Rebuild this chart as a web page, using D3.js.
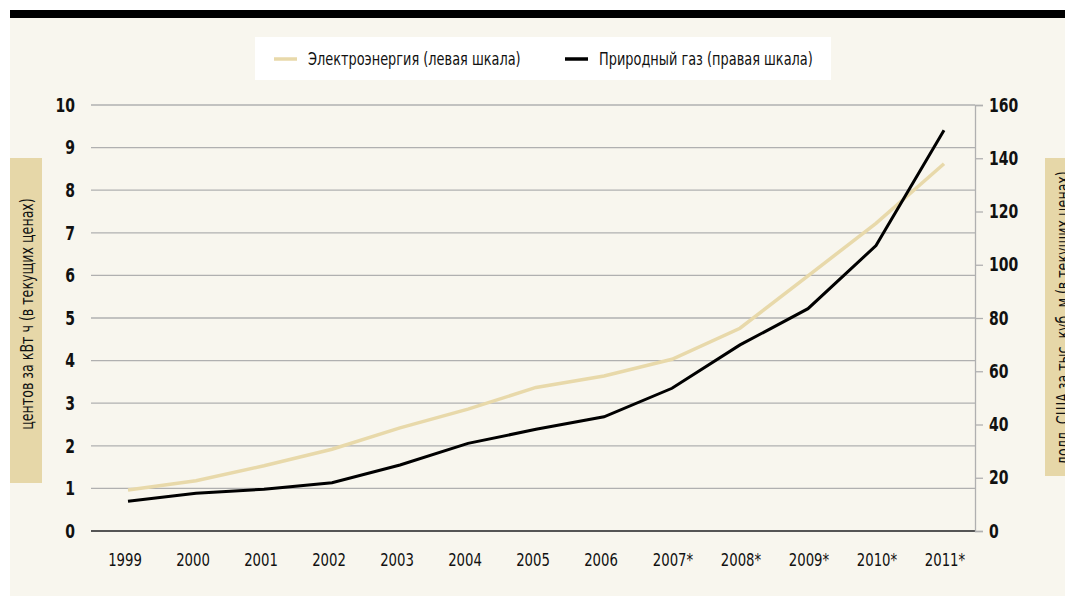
<!DOCTYPE html>
<html>
<head>
<meta charset="utf-8">
<script src="https://cdn.jsdelivr.net/npm/d3@7"></script>
<style>
  body { margin: 0; background: #fff; }
  text { font-family: "DejaVu Sans Condensed", "Liberation Sans Narrow", sans-serif; }
</style>
</head>
<body>
<div id="chart"></div>
<script>
var width = 1065, height = 596;

// data
var years = ["1999","2000","2001","2002","2003","2004","2005","2006","2007*","2008*","2009*","2010*","2011*"];
var electricity = [0.96, 1.18, 1.53, 1.92, 2.42, 2.86, 3.37, 3.64, 4.03, 4.76, 5.99, 7.22, 8.62];
var gas = [11.2, 14.2, 15.7, 18.1, 24.8, 32.9, 38.2, 42.9, 53.6, 69.9, 83.5, 107.2, 150.5];
var leftTicks = [0,1,2,3,4,5,6,7,8,9,10];
var rightTicks = [0,20,40,60,80,100,120,140,160];

var narrow = 0.82; // squeeze text to look like a condensed face

var svg = d3.select("#chart").append("svg").attr("width", width).attr("height", height);

svg.append("rect").attr("x", 10).attr("y", 10).attr("width", width - 10).attr("height", height - 10).attr("fill", "#f8f6ee");
svg.append("rect").attr("x", 10).attr("y", 10).attr("width", width - 10).attr("height", 8).attr("fill", "#000");

var x = d3.scalePoint().domain(years).range([128, 944]);
var yL = d3.scaleLinear().domain([0, 10]).range([531, 105]);
var yR = d3.scaleLinear().domain([0, 160]).range([531, 105]);

// gridlines
svg.append("g").selectAll("line").data(leftTicks).enter().append("line")
  .attr("x1", 91).attr("x2", 975)
  .attr("y1", function(d){ return yL(d); }).attr("y2", function(d){ return yL(d); })
  .attr("stroke", function(d){ return d == 0 ? "#555" : "#b0b0b0"; })
  .attr("stroke-width", function(d){ return d == 0 ? 2.2 : 1.3; });

// left labels
svg.append("g").selectAll("text").data(leftTicks).enter().append("text")
  .attr("transform", function(d){ return "translate(75," + yL(d) + ") scale(" + narrow + ",1)"; })
  .attr("dy", "0.36em").attr("text-anchor", "end")
  .attr("font-size", 19).attr("font-weight", "bold").attr("fill", "#111")
  .text(function(d){ return d; });

// right axis
var rAxis = svg.append("g").attr("transform", "translate(975,0)")
  .call(d3.axisRight(yR).tickValues(rightTicks).tickSize(8).tickPadding(6));
rAxis.select(".domain").attr("stroke", "#b0b0b0").attr("stroke-width", 1.3);
rAxis.selectAll(".tick line").attr("stroke", "#b0b0b0").attr("stroke-width", 1.3);
rAxis.selectAll(".tick text")
  .attr("x", 14 / narrow).attr("transform", "scale(" + narrow + ",1)")
  .attr("font-size", 19).attr("font-weight", "bold").attr("fill", "#111")
  .style("font-family", "'DejaVu Sans Condensed', sans-serif");

// x labels
svg.append("g").selectAll("text").data(years).enter().append("text")
  .attr("transform", function(d){
    var px = x(d) - 3 + (d.indexOf("*") > 0 ? 4 : 0);
    return "translate(" + px + ",560) scale(" + narrow + ",1)";
  })
  .attr("dy", "0.36em").attr("text-anchor", "middle")
  .attr("font-size", 18).attr("fill", "#111")
  .text(function(d){ return d; });

// lines
var lineE = d3.line().x(function(d, i){ return x(years[i]); }).y(function(d){ return yL(d); });
var lineG = d3.line().x(function(d, i){ return x(years[i]); }).y(function(d){ return yR(d); });

svg.append("path").datum(electricity).attr("d", lineE)
  .attr("fill", "none").attr("stroke", "#e8d9aa").attr("stroke-width", 3.5);
svg.append("path").datum(gas).attr("d", lineG)
  .attr("fill", "none").attr("stroke", "#000").attr("stroke-width", 3);

// axis title boxes
svg.append("rect").attr("x", 10).attr("y", 158).attr("width", 32).attr("height", 325).attr("fill", "#e6d7a8");
svg.append("text").attr("transform", "translate(27,314) rotate(-90) scale(0.78,1)")
  .attr("text-anchor", "middle").attr("dominant-baseline", "central")
  .attr("font-size", 18).attr("fill", "#111")
  .text("центов за кВт ч (в текущих ценах)");

svg.append("rect").attr("x", 1045).attr("y", 158).attr("width", 40).attr("height", 318).attr("fill", "#e6d7a8");
svg.append("text").attr("transform", "translate(1063,318) rotate(-90) scale(0.78,1)")
  .attr("text-anchor", "middle").attr("dominant-baseline", "central")
  .attr("font-size", 18).attr("fill", "#111")
  .text("долл. США за тыс. куб. м (в текущих ценах)");

// legend
var legend = svg.append("g");
legend.append("rect").attr("x", 255).attr("y", 37).attr("width", 576).attr("height", 43).attr("fill", "#fff");
var items = [
  {name: "Электроэнергия (левая шкала)", color: "#e8d9aa", x: 274},
  {name: "Природный газ (правая шкала)", color: "#000", x: 565}
];
items.forEach(function(it){
  legend.append("line").attr("x1", it.x).attr("x2", it.x + 23).attr("y1", 59).attr("y2", 59)
    .attr("stroke", it.color).attr("stroke-width", 3.5);
  legend.append("text").attr("transform", "translate(" + (it.x + 34) + ",59) scale(" + narrow + ",1)")
    .attr("dy", "0.36em")
    .attr("font-size", 17.5).attr("fill", "#111").text(it.name);
});
</script>
</body>
</html>
